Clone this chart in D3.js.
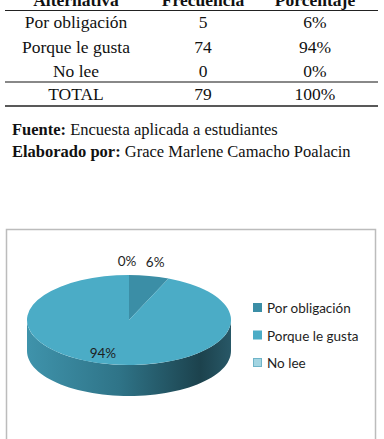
<!DOCTYPE html>
<html>
<head>
<meta charset="utf-8">
<script src="https://cdn.jsdelivr.net/npm/d3@7"></script>
<style>
  body { margin: 0; background: #fff; }
  svg { display: block; }
</style>
</head>
<body>
<script>
// data
var headers = ["Alternativa", "Frecuencia", "Porcentaje"];
var categories = ["Por obligación", "Porque le gusta", "No lee"];
var frecuencia = [5, 74, 0];
var porcentaje = ["6%", "94%", "0%"];
var totalRow = ["TOTAL", 79, "100%"];
var colors = ["#3b8ea6", "#4bacc6", "#a3d5e2"];

var width = 384, height = 439;
var svg = d3.select("body").append("svg")
    .attr("width", width)
    .attr("height", height);

// ---- table ----
var serif = "Liberation Serif, Times New Roman, serif";
var colX = [76, 203, 315];
var table = svg.append("g").style("font-family", serif).attr("font-size", 17.5).attr("fill", "#111");

table.selectAll("text.h")
    .data(headers)
    .enter().append("text")
    .attr("class", "h")
    .attr("x", function (d, i) { return colX[i]; })
    .attr("y", 5.5)
    .attr("text-anchor", "middle")
    .attr("font-weight", "bold")
    .text(function (d) { return d; });

var rowY = d3.scalePoint().domain(categories).range([28, 77]);
var rows = table.selectAll("g.row")
    .data(categories)
    .enter().append("g")
    .attr("class", "row")
    .attr("transform", function (d) { return "translate(0," + rowY(d) + ")"; });
rows.selectAll("text")
    .data(function (d, i) { return [d, frecuencia[i], porcentaje[i]]; })
    .enter().append("text")
    .attr("x", function (d, i) { return colX[i]; })
    .attr("text-anchor", "middle")
    .text(function (d) { return d; });

table.selectAll("text.t")
    .data(totalRow)
    .enter().append("text")
    .attr("class", "t")
    .attr("x", function (d, i) { return colX[i]; })
    .attr("y", 100)
    .attr("text-anchor", "middle")
    .text(function (d) { return d; });

table.append("line").attr("x1", 5).attr("x2", 378).attr("y1", 10.5).attr("y2", 10.5)
    .attr("stroke", "#222").attr("stroke-width", 1);
table.append("line").attr("x1", 5).attr("x2", 378).attr("y1", 82).attr("y2", 82)
    .attr("stroke", "#888").attr("stroke-width", 2);
table.append("line").attr("x1", 5).attr("x2", 378).attr("y1", 106).attr("y2", 106)
    .attr("stroke", "#222").attr("stroke-width", 1.5);

// source notes
var notes = svg.append("g").style("font-family", serif).attr("font-size", 16.5).attr("fill", "#111");
var n1 = notes.append("text").attr("x", 12).attr("y", 135);
n1.append("tspan").attr("font-weight", "bold").text("Fuente:");
n1.append("tspan").text(" Encuesta aplicada a estudiantes");
var n2 = notes.append("text").attr("x", 12).attr("y", 157);
n2.append("tspan").attr("font-weight", "bold").text("Elaborado por:");
n2.append("tspan").text(" Grace Marlene Camacho Poalacin");

// ---- chart ----
svg.append("rect")
    .attr("x", 6.5).attr("y", 229.5)
    .attr("width", 369).attr("height", 240)
    .attr("fill", "#fff").attr("stroke", "#bcbcbc").attr("stroke-width", 1.5);

var cx = 129, cy = 320, rx = 102, ry = 45, depth = 31;
var sans = "Lato, Open Sans, sans-serif";

var pie = d3.pie().sort(null).value(function (d) { return d; });
var arcs = pie(frecuencia);

function pt(a, k) {
    k = k || 1;
    return [cx + rx * k * Math.sin(a), cy - ry * k * Math.cos(a)];
}

// side gradient
var defs = svg.append("defs");
var grad = defs.append("linearGradient").attr("id", "side")
    .attr("gradientUnits", "userSpaceOnUse")
    .attr("x1", cx - rx).attr("x2", cx + rx).attr("y1", 0).attr("y2", 0);
grad.append("stop").attr("offset", "0%").attr("stop-color", "#3f93ab");
grad.append("stop").attr("offset", "45%").attr("stop-color", "#2f7488");
grad.append("stop").attr("offset", "85%").attr("stop-color", "#1c424d");
grad.append("stop").attr("offset", "100%").attr("stop-color", "#285867");

// side walls (front half only: angles between PI/2 and 3PI/2)
var chart = svg.append("g");
arcs.forEach(function (d) {
    var a0 = Math.max(d.startAngle, Math.PI / 2);
    var a1 = Math.min(d.endAngle, 3 * Math.PI / 2);
    if (a1 <= a0) return;
    var p = d3.path();
    var steps = 60;
    for (var s = 0; s <= steps; s++) {
        var q = pt(a0 + (a1 - a0) * s / steps);
        if (s === 0) p.moveTo(q[0], q[1]); else p.lineTo(q[0], q[1]);
    }
    for (var s = steps; s >= 0; s--) {
        var q = pt(a0 + (a1 - a0) * s / steps);
        p.lineTo(q[0], q[1] + depth);
    }
    p.closePath();
    chart.append("path").attr("d", p.toString()).attr("fill", "url(#side)");
});

// top faces
var arc = d3.arc().innerRadius(0).outerRadius(rx);
chart.append("g")
    .attr("transform", "translate(" + cx + "," + cy + ") scale(1," + (ry / rx) + ")")
    .selectAll("path")
    .data(arcs)
    .enter().append("path")
    .attr("d", arc)
    .attr("fill", function (d, i) { return colors[i]; });

// data labels
chart.selectAll("text.lbl")
    .data(arcs)
    .enter().append("text")
    .attr("class", "lbl")
    .style("font-family", sans).attr("font-size", 13.5).attr("fill", "#1e1e1e")
    .attr("text-anchor", "middle")
    .attr("x", function (d) {
        var m = (d.startAngle + d.endAngle) / 2;
        var big = d.endAngle - d.startAngle > Math.PI;
        var q = big ? pt(m, 0.75) : pt(m, 1.3);
        return q[0] - (big ? 11 : 0) - (d.value === 0 ? 2 : 0);
    })
    .attr("y", function (d) {
        var m = (d.startAngle + d.endAngle) / 2;
        var big = d.endAngle - d.startAngle > Math.PI;
        var q = big ? pt(m, 0.75) : pt(m, 1.3);
        return q[1] + 4.5;
    })
    .text(function (d, i) { return porcentaje[i]; });

// legend
var legY = d3.scalePoint().domain(categories).range([308, 363]);
var leg = svg.append("g").selectAll("g")
    .data(categories)
    .enter().append("g")
    .attr("transform", function (d) { return "translate(253," + legY(d) + ")"; });
leg.append("rect")
    .attr("x", 0.5).attr("y", -4.5).attr("width", 8).attr("height", 8)
    .attr("fill", function (d, i) { return colors[i]; })
    .attr("stroke", function (d, i) { return i === 2 ? "#6fb4c8" : colors[i]; })
    .attr("stroke-width", 1);
leg.append("text")
    .attr("x", 14).attr("y", 5)
    .style("font-family", sans).attr("font-size", 13.5).attr("fill", "#1e1e1e")
    .text(function (d) { return d; });
</script>
</body>
</html>
